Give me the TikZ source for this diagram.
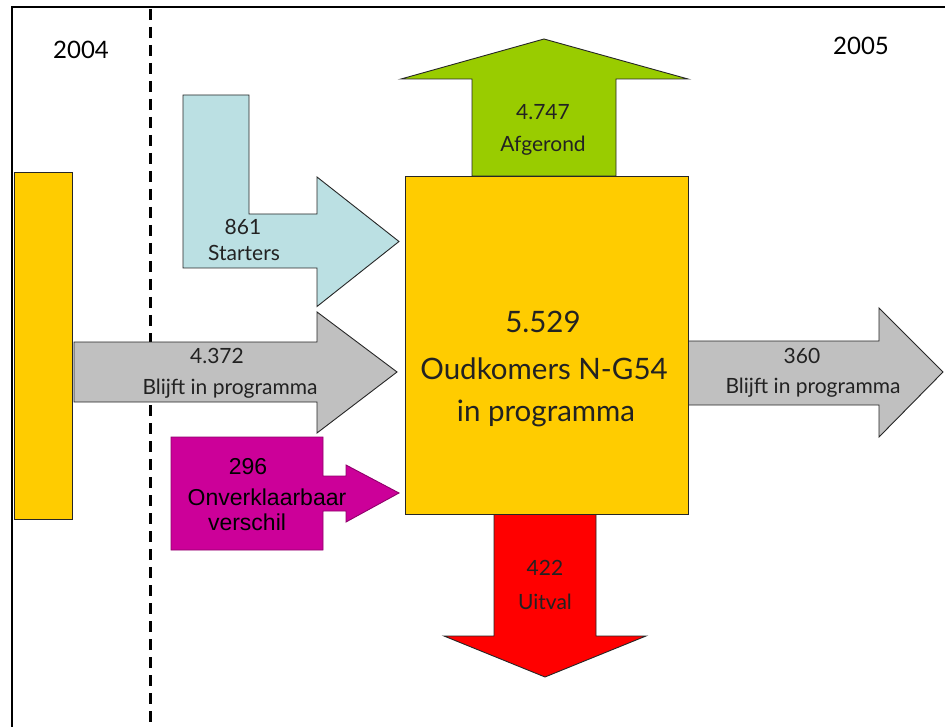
\documentclass[tikz,border=0pt]{standalone}
\usepackage{fontspec}
\setmainfont{Lato}
\newfontfamily\arialf{Liberation Sans}
\definecolor{ygold}{HTML}{FFCC00}
\definecolor{lblue}{HTML}{BBE0E3}
\definecolor{lgreen}{HTML}{99CC00}
\definecolor{lgray}{HTML}{C0C0C0}
\definecolor{mag}{HTML}{CC0099}
\definecolor{rred}{HTML}{FF0000}
\definecolor{txt}{HTML}{222222}
\begin{document}
\begin{tikzpicture}[x=1pt,y=-1pt,
  shp/.style={draw=black!85, line width=0.9pt, line join=miter},
  lbl/.style={inner sep=0pt, text=txt, font=\fontsize{21}{24}\selectfont},
  yr/.style={inner sep=0pt, text=black, font=\fontsize{24}{27}\selectfont},
  big/.style={inner sep=0pt, text=txt, font=\fontsize{29.5}{32}\selectfont},
  arl/.style={inner sep=0pt, text=black, font=\arialf\fontsize{23}{26}\selectfont}]
\useasboundingbox (0,0) rectangle (945,727);
% frame
\draw[line width=1.4pt] (945,7) -- (12,7) -- (12,727);
% dashed divider
\draw[line width=3pt, dash pattern=on 11pt off 7pt] (150,9) -- (150,727);
% years
\node[yr] (y2004) at (81,50) {2004};
\node[yr] (y2005) at (861,46) {2005};
% left bar
\draw[shp, fill=ygold] (14,172) rectangle (72,519);
% starters L-arrow
\draw[shp, fill=lblue] (183,95) -- (249,95) -- (249,214) -- (317,214) -- (317,177) -- (399,241.5) -- (317,306.5) -- (317,268) -- (183,268) -- cycle;
\node[lbl] (s1) at (243,227) {861};
\node[lbl] (s2) at (244,253) {Starters};
% left grey arrow
\draw[shp, fill=lgray] (74,342) -- (317,342) -- (317,312) -- (397,372) -- (317,433) -- (317,402) -- (74,402) -- cycle;
\node[lbl] (g1) at (217,356) {4.372};
\node[lbl] (g2) at (230,389) {Blijft in programma};
% magenta
\draw[shp, draw=mag!70!black, fill=mag] (171,437) -- (323,437) -- (323,476) -- (346,476) -- (346,465) -- (399,493) -- (346,522) -- (346,511) -- (323,511) -- (323,550) -- (171,550) -- cycle;
\node[arl] (m1) at (248,467) {296};
\node[arl] (m2) at (267,497) {Onverklaarbaar};
\node[arl] (m3) at (247,522) {verschil};
% green up arrow
\draw[shp, fill=lgreen] (472,176) -- (472,79) -- (401,79) -- (544,39) -- (688,79) -- (616,79) -- (616,176) -- cycle;
\node[lbl] (a1) at (543,112) {4.747};
\node[lbl] (a2) at (543,146) {Afgerond};
% red down arrow
\draw[shp, fill=rred] (494,514) -- (494,636) -- (444,636) -- (545,677) -- (646,636) -- (596,636) -- (596,514) -- cycle;
\node[lbl] (r1) at (545,568) {422};
\node[lbl] (r2) at (545,602) {Uitval};
% right grey arrow
\draw[shp, fill=lgray] (688,341) -- (879,341) -- (879,308) -- (943,372) -- (879,437) -- (879,405) -- (688,405) -- cycle;
\node[lbl] (q1) at (802,356) {360};
\node[lbl] (q2) at (813,388) {Blijft in programma};
% central box
\draw[shp, fill=ygold] (405,176) rectangle (688,514);
\node[big] (c1) at (543,322) {5.529};
\node[big] (c2) at (544,369) {Oudkomers N-G54};
\node[big] (c3) at (546,413) {in programma};
\end{tikzpicture}
\end{document}
